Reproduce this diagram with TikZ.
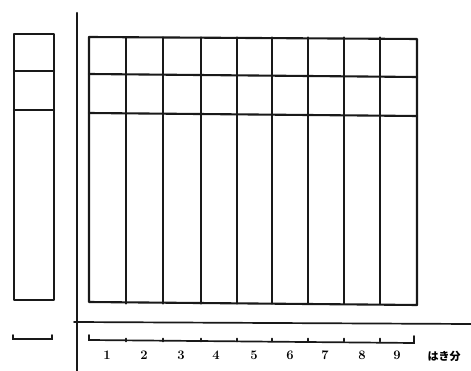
\documentclass[tikz,border=0pt]{standalone}
\usepackage{fontspec}
\newfontfamily\jpfont{Noto Sans CJK JP}
\begin{document}
\begin{tikzpicture}[x=1pt,y=-1pt,
  ln/.style={line width=2.1pt, draw=black!90, line cap=round, line join=round},
  thin/.style={line width=1.7pt, draw=black!90, line cap=round},
  num/.style={font=\bfseries\fontsize{13}{13}\selectfont, inner sep=0pt}]
\useasboundingbox (0,0) rectangle (471,371);
% left column
\draw[ln] (14,34) rectangle (54,300);
\draw[ln] (14,71) -- (54,71);
\draw[ln] (14,110) -- (54,110);
% axes
\draw[ln] (77,13) -- (77,371);
\draw[thin] (74,322) -- (471,324);
% main grid
\draw[ln] (89,37) -- (417,39) -- (417,305) -- (89,302) -- cycle;
\draw[ln] (89,74) -- (417,77);
\draw[ln] (89,113) -- (417,116);
\foreach \x in {126,163,201,237,272,308,344,380}
  \draw[ln] (\x,37.5) -- (\x,303.5);
% left bracket
\draw[thin] (13,335) -- (13,339) -- (52,339) -- (52,335);
% bottom scale
\draw[thin] (89,335) -- (89,340) -- (414,343) -- (414,336);
\foreach \x in {126,163,201,237,272,308,344,380}
  \draw[thin] (\x,338.5) -- (\x,341.5);
% numbers
\foreach \n/\x in {1/107,2/144,3/181,4/216,5/254,6/290,7/325,8/362,9/397}
  \node[num] (n\n) at (\x,355) {\n};
\node[font=\jpfont\bfseries\fontsize{11}{11}\selectfont, inner sep=0pt] (unit) at (444,356) {はき分};
\end{tikzpicture}
\end{document}
